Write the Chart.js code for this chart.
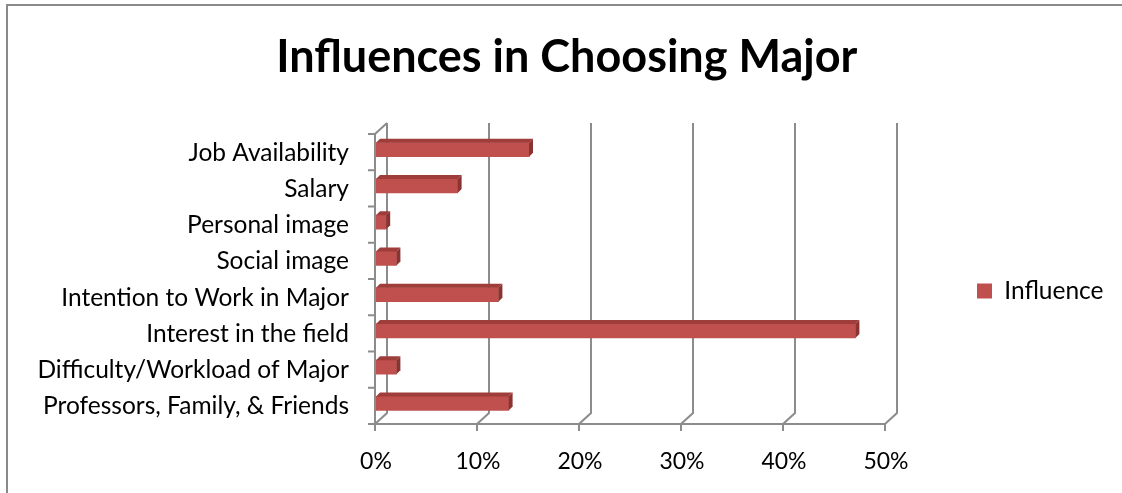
<!DOCTYPE html>
<html>
<head>
<meta charset="utf-8">
<script src="https://cdn.jsdelivr.net/npm/chart.js@4.4.0/dist/chart.umd.min.js"></script>
<style>
  body { margin: 0; background: #fff; }
  #wrap { width: 1122px; height: 493px; position: relative; }
</style>
</head>
<body>
<div id="wrap"><canvas id="chart"></canvas></div>
<script>
const categories = ['Job Availability', 'Salary', 'Personal image', 'Social image',
    'Intention to Work in Major', 'Interest in the field',
    'Difficulty/Workload of Major', 'Professors, Family, & Friends'];
const influence = [15, 8, 1, 2, 12, 47, 2, 13];
const seriesName = 'Influence';
const xTicks = [0, 10, 20, 30, 40, 50];

const FONT = 'Lato';
const GRAY = '#8c8c8c';
const LABEL_SIZE = 24.5;
const PAD_LEFT = 20;

// measure the legend text so the plot area ends where the reference's does
const mctx = document.createElement('canvas').getContext('2d');
mctx.font = LABEL_SIZE + 'px ' + FONT;
const legendTextW = mctx.measureText(seriesName).width;
const legendPad = 91;
const legendW = legendPad + 15 + LABEL_SIZE / 2 + legendTextW + 10;
const padRight = Math.max(0, 1122 - 886 - legendW);

// 3D look: back walls, gridlines and bar faces
const depthPlugin = {
    id: 'depth',
    beforeDraw(chart) {
        const ctx = chart.ctx;
        ctx.save();
        ctx.fillStyle = '#fff';
        ctx.fillRect(0, 0, chart.width, chart.height);
        ctx.strokeStyle = '#8a8a8a';
        ctx.lineWidth = 2;
        ctx.beginPath();
        ctx.moveTo(7, chart.height);
        ctx.lineTo(7, 5);
        ctx.lineTo(chart.width, 5);
        ctx.stroke();
        ctx.restore();
    },
    beforeDatasetsDraw(chart) {
        const ctx = chart.ctx;
        const xs = chart.scales.x;
        const ca = chart.chartArea;
        const D = 2.5, dx = 12, dy = -11;
        const fT = ca.top + D, fB = ca.bottom + D;
        const band = (ca.bottom - ca.top) / categories.length;
        ctx.save();
        ctx.strokeStyle = GRAY;
        ctx.lineWidth = 2;
        ctx.beginPath();
        xs.ticks.forEach(t => {
            const px = xs.getPixelForValue(t.value) - 1;
            ctx.moveTo(px + dx, fT + dy);
            ctx.lineTo(px + dx, fB + dy);
            ctx.lineTo(px, fB);
            ctx.moveTo(px, fB);
            ctx.lineTo(px, fB + 7);
        });
        const x0 = xs.getPixelForValue(0) - 1;
        const xN = xs.getPixelForValue(xTicks[xTicks.length - 1]) - 1;
        ctx.moveTo(x0 - 1, fB);
        ctx.lineTo(xN, fB);
        ctx.moveTo(x0, fB);
        ctx.lineTo(x0, fT);
        ctx.lineTo(x0 + dx, fT + dy);
        for (let k = 0; k <= categories.length; k++) {
            const y = fT + k * band;
            ctx.moveTo(x0 - 7, y);
            ctx.lineTo(x0, y);
        }
        ctx.stroke();
        ctx.restore();
    },
    afterDatasetsDraw(chart) {
        const ctx = chart.ctx;
        const d = 4;
        ctx.save();
        chart.getDatasetMeta(0).data.forEach(bar => {
            const top = bar.y - bar.height / 2;
            const bot = bar.y + bar.height / 2;
            ctx.fillStyle = '#9e3d3a';
            ctx.beginPath();
            ctx.moveTo(bar.base, top);
            ctx.lineTo(bar.x, top);
            ctx.lineTo(bar.x + d, top - d);
            ctx.lineTo(bar.base + d, top - d);
            ctx.closePath();
            ctx.fill();
            ctx.fillStyle = '#8a3331';
            ctx.beginPath();
            ctx.moveTo(bar.x, top);
            ctx.lineTo(bar.x + d, top - d);
            ctx.lineTo(bar.x + d, bot - d);
            ctx.lineTo(bar.x, bot);
            ctx.closePath();
            ctx.fill();
        });
        ctx.restore();
    }
};

new Chart(document.getElementById('chart'), {
    type: 'bar',
    data: {
        labels: categories,
        datasets: [{
            label: seriesName,
            data: influence,
            backgroundColor: '#c0504d',
            borderWidth: 0,
            barThickness: 14
        }]
    },
    options: {
        indexAxis: 'y',
        responsive: true,
        maintainAspectRatio: false,
        animation: false,
        layout: { padding: { left: PAD_LEFT, top: 0, bottom: 0, right: padRight } },
        plugins: {
            title: {
                display: true,
                text: 'Influences in Choosing Major',
                color: '#000',
                font: { family: FONT, size: 45, weight: 'bold', lineHeight: 1.2 },
                padding: { top: 30, bottom: 47.5 }
            },
            legend: {
                position: 'right',
                fullSize: false,
                labels: {
                    boxWidth: 15,
                    boxHeight: 15,
                    padding: legendPad,
                    color: '#000',
                    font: { family: FONT, size: LABEL_SIZE }
                },
                title: {
                    display: true,
                    text: ' ',
                    font: { size: 20, lineHeight: 1.2 },
                    padding: { top: 5, bottom: 0 }
                }
            },
            tooltip: { enabled: false }
        },
        scales: {
            x: {
                min: 0,
                max: 50,
                ticks: {
                    stepSize: 10,
                    padding: 26,
                    color: '#000',
                    font: { family: FONT, size: 23 },
                    callback: v => v + '%'
                },
                grid: { display: false, drawTicks: false },
                border: { display: false },
                afterFit: axis => { axis.height = 71.5; }
            },
            y: {
                ticks: {
                    padding: 27,
                    labelOffset: 3,
                    color: '#000',
                    font: { family: FONT, size: LABEL_SIZE }
                },
                grid: { display: false, drawTicks: false },
                border: { display: false },
                afterFit: axis => { axis.width = 376 - PAD_LEFT; }
            }
        }
    },
    plugins: [depthPlugin]
});
</script>
</body>
</html>
